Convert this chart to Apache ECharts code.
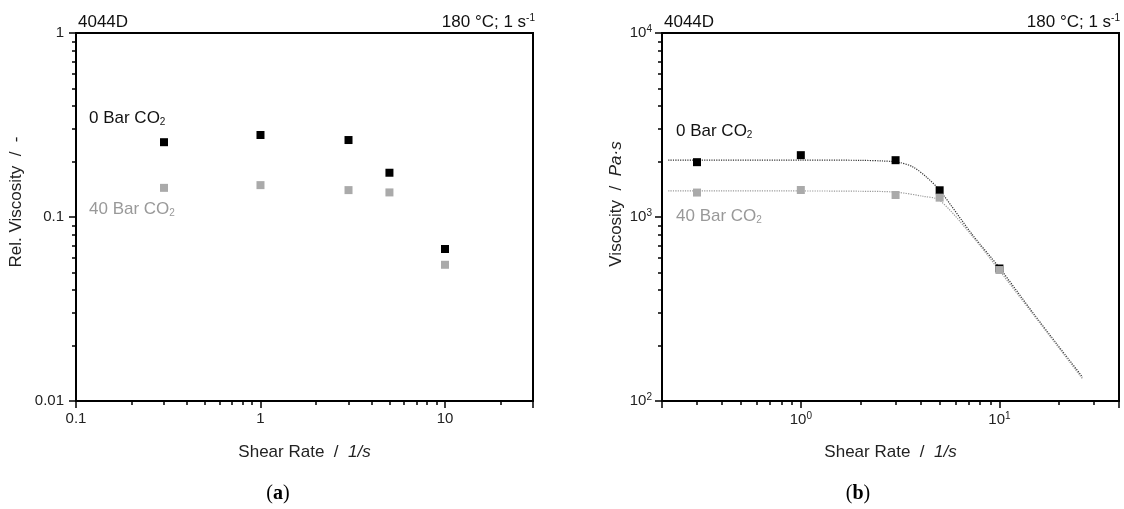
<!DOCTYPE html>
<html><head><meta charset="utf-8">
<script src="https://cdn.jsdelivr.net/npm/echarts@6/dist/echarts.min.js"></script>
<style>html,body{margin:0;padding:0;background:#fff}#c{width:1124px;height:509px}</style>
</head><body><div id="c"></div>
<script>
// ---- data ----
const shearRates = [0.3, 1, 3, 5, 10];
const relVisc0Bar = [0.255, 0.279, 0.262, 0.174, 0.067];
const relVisc40Bar = [0.144, 0.149, 0.140, 0.136, 0.055];
const visc0Bar = [1986, 2168, 2036, 1397, 525];
const visc40Bar = [1358, 1402, 1317, 1274, 515];
const fit0BarRates = [0.215, 1, 2, 2.6, 3.1, 3.67, 4.28, 5, 7.35, 10, 14.7, 19.6, 26.2];
const fit0BarVisc = [2040, 2040, 2032, 2015, 1985, 1871, 1652, 1397, 795, 530, 303, 202, 135];
const fit40BarRates = [0.215, 1, 2, 3, 4.12, 5, 7.35, 10, 14.7, 19.6, 26.2];
const fit40BarVisc = [1385, 1385, 1380, 1365, 1296, 1232, 780, 512, 298, 199, 132];
// tick labels
const xTickValsA = [0.1, 1, 10];
const xTickLabelsA = ['0.1', '1', '10'];
const yTickValsA = [0.01, 0.1, 1];
const yTickLabelsA = ['0.01', '0.1', '1'];
const xTickValsB = [1, 10];
const xTickLabelsB = ['10{sup|0}', '10{sup|1}'];
const yTickValsB = [100, 1000, 10000];
const yTickLabelsB = ['10{sup|2}', '10{sup|3}', '10{sup|4}'];

const FONT = '"Liberation Sans", Arial, sans-serif';
function fmt(vals, labels) {
  return function (v) {
    for (let i = 0; i < vals.length; i++) {
      if (Math.abs(Math.log10(v) - Math.log10(vals[i])) < 1e-6) return labels[i];
    }
    return '';
  };
}
const pairs = (xs, ys) => xs.map((x, i) => [x, ys[i]]);
const supRich = {
  sup: { fontSize: 10, verticalAlign: 'top', padding: [0, 0, 8, 0], color: '#222', fontFamily: FONT }
};
function axisCommon(extra) {
  return Object.assign({
    type: 'log', logBase: 10,
    axisLine: { show: true, lineStyle: { color: '#000', width: 2 } },
    axisTick: { show: true, length: 7, inside: false, lineStyle: { color: '#000', width: 1.5 } },
    minorTick: { show: true, splitNumber: 9, length: 4, lineStyle: { color: '#000', width: 1.5 } },
    splitLine: { show: false },
    minorSplitLine: { show: false },
    nameLocation: 'middle',
    nameTextStyle: { fontFamily: FONT, fontSize: 17, color: '#222', rich: { i: { fontStyle: 'italic', fontFamily: FONT, fontSize: 17, color: '#222' } } }
  }, extra);
}
const labelStyle = (vals, labels, margin) => ({
  fontFamily: FONT, fontSize: 15, color: '#222', margin,
  formatter: fmt(vals, labels), rich: supRich, showMinLabel: true, showMaxLabel: true
});
const sq = (name, data, color, xi) => ({
  name, type: 'scatter', xAxisIndex: xi, yAxisIndex: xi, data,
  symbol: 'rect', symbolSize: 8, itemStyle: { color, opacity: 1 }, z: 5
});
const fitLine = (data, color) => ({
  type: 'line', xAxisIndex: 1, yAxisIndex: 1, data, showSymbol: false, symbol: 'none',
  smooth: 0.3, lineStyle: { color, width: 1.2, type: 'dotted' }, z: 3
});
const coRich = (color) => ({ sub: { fontSize: 10, verticalAlign: 'bottom', padding: [8, 0, 0, 0], fontFamily: FONT, color } });
const txt = (x, y, text, color, align, rich) => ({
  type: 'text', x, y,
  style: { text, x: 0, y: 0, fill: color, font: '17px ' + FONT, textAlign: align || 'left', textVerticalAlign: 'middle', rich: rich || {} }
});

const chart = echarts.init(document.getElementById('c'), null, { renderer: 'canvas' });
chart.setOption({
  backgroundColor: '#fff',
  animation: false,
  grid: [
    { left: 76, right: 591, top: 33, bottom: 108, show: true, borderColor: '#000', borderWidth: 2 },
    { left: 662, right: 5, top: 33, bottom: 108, show: true, borderColor: '#000', borderWidth: 2 }
  ],
  xAxis: [
    axisCommon({ gridIndex: 0, min: 0.1, max: 30, name: 'Shear Rate  /  {i|1/s}', nameGap: 43,
      axisLabel: labelStyle(xTickValsA, xTickLabelsA, 10) }),
    axisCommon({ gridIndex: 1, min: 0.2, max: 40, name: 'Shear Rate  /  {i|1/s}', nameGap: 43,
      axisLabel: labelStyle(xTickValsB, xTickLabelsB, 10) })
  ],
  yAxis: [
    axisCommon({ gridIndex: 0, min: 0.01, max: 1, name: 'Rel. Viscosity  /  -', nameGap: 51,
      nameTextStyle: { fontFamily: FONT, fontSize: 17, color: '#222', padding: [0, 0, 0, 30] },
      axisLabel: labelStyle(yTickValsA, yTickLabelsA, 12) }),
    axisCommon({ gridIndex: 1, min: 100, max: 10000, name: 'Viscosity  /  {i|Pa·s}', nameGap: 37,
      nameTextStyle: { fontFamily: FONT, fontSize: 17, color: '#222', padding: [0, 0, 0, 26],
        rich: { i: { fontStyle: 'italic', fontFamily: FONT, fontSize: 17, color: '#222' } } },
      axisLabel: labelStyle(yTickValsB, yTickLabelsB, 10) })
  ],
  series: [
    fitLine(pairs(fit0BarRates, fit0BarVisc), '#333'),
    fitLine(pairs(fit40BarRates, fit40BarVisc), '#999'),
    sq('0 Bar CO2 a', pairs(shearRates, relVisc0Bar), '#000', 0),
    sq('40 Bar CO2 a', pairs(shearRates, relVisc40Bar), '#aaaaaa', 0),
    sq('0 Bar CO2 b', pairs(shearRates, visc0Bar), '#000', 1),
    sq('40 Bar CO2 b', pairs(shearRates, visc40Bar), '#aaaaaa', 1)
  ],
  graphic: [
    txt(78, 22, '4044D', '#111'),
    txt(535, 22, '180 °C; 1 s{sup|-1}', '#111', 'right', supRich),
    txt(664, 22, '4044D', '#111'),
    txt(1120, 22, '180 °C; 1 s{sup|-1}', '#111', 'right', supRich),
    txt(89, 118, '0 Bar CO{sub|2}', '#111', 'left', coRich('#111')),
    txt(89, 209, '40 Bar CO{sub|2}', '#999', 'left', coRich('#999')),
    txt(676, 131, '0 Bar CO{sub|2}', '#111', 'left', coRich('#111')),
    txt(676, 216, '40 Bar CO{sub|2}', '#999', 'left', coRich('#999')),
    { type: 'text', x: 278, y: 494, style: { text: '({b|a})', x: 0, y: 0, fill: '#000', font: '20px "Liberation Serif", serif', textAlign: 'center', textVerticalAlign: 'middle', rich: { b: { fontWeight: 'bold', fontSize: 20, fontFamily: '"Liberation Serif", serif', fill: '#000' } } } },
    { type: 'text', x: 858, y: 494, style: { text: '({b|b})', x: 0, y: 0, fill: '#000', font: '20px "Liberation Serif", serif', textAlign: 'center', textVerticalAlign: 'middle', rich: { b: { fontWeight: 'bold', fontSize: 20, fontFamily: '"Liberation Serif", serif', fill: '#000' } } } }
  ]
});
</script></body></html>
